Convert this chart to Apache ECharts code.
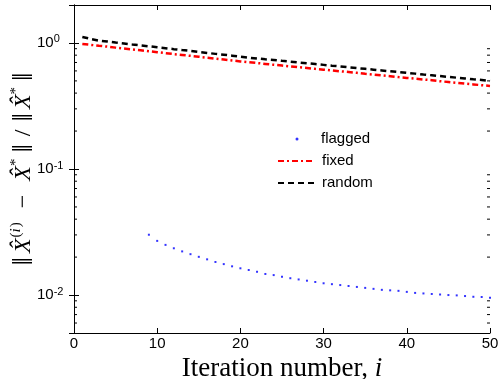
<!DOCTYPE html>
<html>
<head>
<meta charset="utf-8">
<script src="https://cdn.jsdelivr.net/npm/echarts@6/dist/echarts.min.js"></script>
<style>
  html, body { margin: 0; padding: 0; background: #fff; }
  #errChart { width: 498px; height: 379px; }
</style>
</head>
<body>
<div id="errChart"></div>
<script>
// relative error per iteration
const randomErr = [
  1.116, 1.076, 1.043, 1.026, 1.007, 0.991, 0.973, 0.957, 0.941, 0.924,
  0.909, 0.893, 0.878, 0.864, 0.848, 0.834, 0.819, 0.806, 0.793, 0.779,
  0.764, 0.753, 0.742, 0.732, 0.721, 0.711, 0.700, 0.690, 0.680, 0.670,
  0.660, 0.651, 0.641, 0.632, 0.623, 0.614, 0.605, 0.596, 0.588, 0.579,
  0.571, 0.562, 0.554, 0.546, 0.538, 0.530, 0.523, 0.515, 0.508, 0.499
]
const fixedErr = [
  0.982, 0.966, 0.950, 0.935, 0.918, 0.903, 0.888, 0.874, 0.859, 0.845,
  0.830, 0.816, 0.803, 0.790, 0.777, 0.764, 0.751, 0.739, 0.726, 0.714,
  0.703, 0.693, 0.682, 0.671, 0.662, 0.652, 0.642, 0.633, 0.623, 0.614,
  0.605, 0.596, 0.588, 0.579, 0.569, 0.561, 0.553, 0.545, 0.536, 0.528,
  0.521, 0.513, 0.506, 0.497, 0.490, 0.483, 0.476, 0.469, 0.462, 0.456
]
// flagged starts at iteration 9
const flaggedStart = 9
const flaggedErr = [
  0.0301, 0.0269, 0.0250, 0.0235, 0.0222, 0.0211, 0.0201, 0.0192, 0.0183, 0.0176,
  0.0169, 0.0163, 0.0158, 0.0153, 0.0147, 0.0144, 0.0140, 0.0136, 0.0133, 0.0130,
  0.0127, 0.0124, 0.0122, 0.0120, 0.0118, 0.0116, 0.0114, 0.0112, 0.0110, 0.0109,
  0.0108, 0.0106, 0.0104, 0.0103, 0.0102, 0.0101, 0.0100, 0.00994, 0.00982, 0.00969,
  0.00965, 0.00952
]
const minorTickValues = [
  0.006, 0.007, 0.008, 0.009,
  0.02, 0.03, 0.04, 0.05, 0.06, 0.07, 0.08, 0.09,
  0.2, 0.3, 0.4, 0.5, 0.6, 0.7, 0.8, 0.9
]

const toPairs = (arr, start) => arr.map((v, i) => [start + i, v])

const sans = 'Liberation Sans, Arial, sans-serif'
const serif = 'Liberation Serif, Times New Roman, serif'

const chartInstance = echarts.init(document.getElementById('errChart'), null, { renderer: 'canvas' })

const boxAxis = {
  axisLine: { show: true, lineStyle: { color: '#000', width: 1 } },
  axisTick: { show: true, inside: true, length: 5, lineStyle: { color: '#000' } },
  splitLine: { show: false }
}

const big = (extra) => ({ fontFamily: serif, fontSize: 24, color: '#000', lineHeight: 30, ...extra })
const small = (extra) => ({ fontFamily: serif, fontSize: 15, color: '#000', lineHeight: 15, verticalAlign: 'top', ...extra })

chartInstance.setOption({
  animation: false,
  backgroundColor: '#fff',
  grid: { left: 74, right: 8, top: 5, bottom: 46, outerBoundsMode: 'none', containLabel: false },
  legend: [
    {
      data: ['flagged'],
      orient: 'vertical',
      left: 295.5,
      top: 131,
      padding: 0,
      icon: 'circle',
      itemWidth: 3,
      itemHeight: 16,
      selectedMode: false,
      textStyle: { fontFamily: sans, fontSize: 15, color: '#000', lineHeight: 16, padding: [0, 0, 0, 17.5] }
    },
    {
      data: ['fixed', 'random'],
      orient: 'vertical',
      left: 277,
      top: 153,
      padding: 0,
      itemWidth: 36,
      itemHeight: 16,
      itemGap: 6,
      selectedMode: false,
      itemStyle: { opacity: 0 },
      textStyle: { fontFamily: sans, fontSize: 15, color: '#000', lineHeight: 16, padding: [0, 0, 0, 3] }
    }
  ],
  xAxis: [
    {
      ...boxAxis,
      type: 'value',
      min: 0,
      max: 50,
      interval: 10,
      position: 'bottom',
      axisLabel: { fontFamily: sans, fontSize: 15, color: '#000', margin: 3 },
      name: '{a|Iteration number, }{i|i}',
      nameLocation: 'middle',
      nameGap: 19,
      nameTextStyle: {
        rich: {
          a: { fontFamily: serif, fontSize: 27, color: '#000' },
          i: { fontFamily: serif, fontSize: 27, fontStyle: 'italic', color: '#000' }
        }
      }
    },
    {
      ...boxAxis,
      type: 'value',
      min: 0,
      max: 50,
      interval: 10,
      position: 'top',
      axisLabel: { show: false }
    }
  ],
  yAxis: [
    {
      ...boxAxis,
      type: 'log',
      logBase: 10,
      min: 0.005,
      max: 2,
      position: 'left',
      axisLabel: {
        showMinLabel: false,
        showMaxLabel: false,
        align: 'left',
        margin: 37,
        formatter: (v) => '{b|10}{s|' + Math.round(Math.log10(v)) + '}',
        rich: {
          b: { fontFamily: sans, fontSize: 15, color: '#000', lineHeight: 18 },
          s: { fontFamily: sans, fontSize: 11, color: '#000', lineHeight: 11, verticalAlign: 'top' }
        }
      },
      name: '{bar|‖}{x|X̂}{s|(}{si|i}{s|)}{m|−}{x|X̂}{st|*}{bar|‖}{sl|/}{bar|‖}{x|X̂}{st|*}{bar|‖}',
      nameLocation: 'middle',
      nameRotate: 90,
      nameGap: 35,
      nameMoveOverlap: false,
      nameTextStyle: {
        rich: {
          bar: big({ fontSize: 30, padding: [0, 4, 0, 4] }),
          x: big({ fontStyle: 'italic' }),
          m: big({ padding: [0, 14, 0, 14] }),
          sl: big({ padding: [0, 4, 0, 4] }),
          s: small({ padding: [0, 0, 0, 1] }),
          si: small({ fontStyle: 'italic' }),
          st: small({ padding: [0, 2, 0, 0] })
        }
      }
    },
    {
      ...boxAxis,
      type: 'log',
      logBase: 10,
      min: 0.005,
      max: 2,
      position: 'right',
      axisLabel: { show: false }
    }
  ],
  series: [
    {
      name: 'flagged',
      type: 'scatter',
      symbol: 'rect',
      symbolSize: 2,
      itemStyle: { color: '#0000ff' },
      data: toPairs(flaggedErr, flaggedStart)
    },
    {
      name: 'fixed',
      type: 'line',
      symbol: 'none',
      color: '#ff0000',
      lineStyle: { color: '#ff0000', width: 2.5, type: [6, 3, 2, 3] },
      data: toPairs(fixedErr, 1)
    },
    {
      name: 'random',
      type: 'line',
      symbol: 'none',
      color: '#000000',
      lineStyle: { color: '#000000', width: 2.5, type: [6, 4] },
      data: toPairs(randomErr, 1)
    },
    {
      // minor log ticks on both sides of the box
      name: 'minorTicks',
      type: 'custom',
      silent: true,
      clip: false,
      renderItem: (params, api) => {
        const v = api.value(1)
        const l = api.coord([0, v])
        const r = api.coord([50, v])
        const style = { stroke: '#000', lineWidth: 1 }
        return {
          type: 'group',
          children: [
            { type: 'line', shape: { x1: l[0], y1: l[1], x2: l[0] + 3, y2: l[1] }, style },
            { type: 'line', shape: { x1: r[0], y1: r[1], x2: r[0] - 3, y2: r[1] }, style }
          ]
        }
      },
      data: minorTickValues.map((v) => [0, v])
    }
  ]
})
</script>
</body>
</html>
